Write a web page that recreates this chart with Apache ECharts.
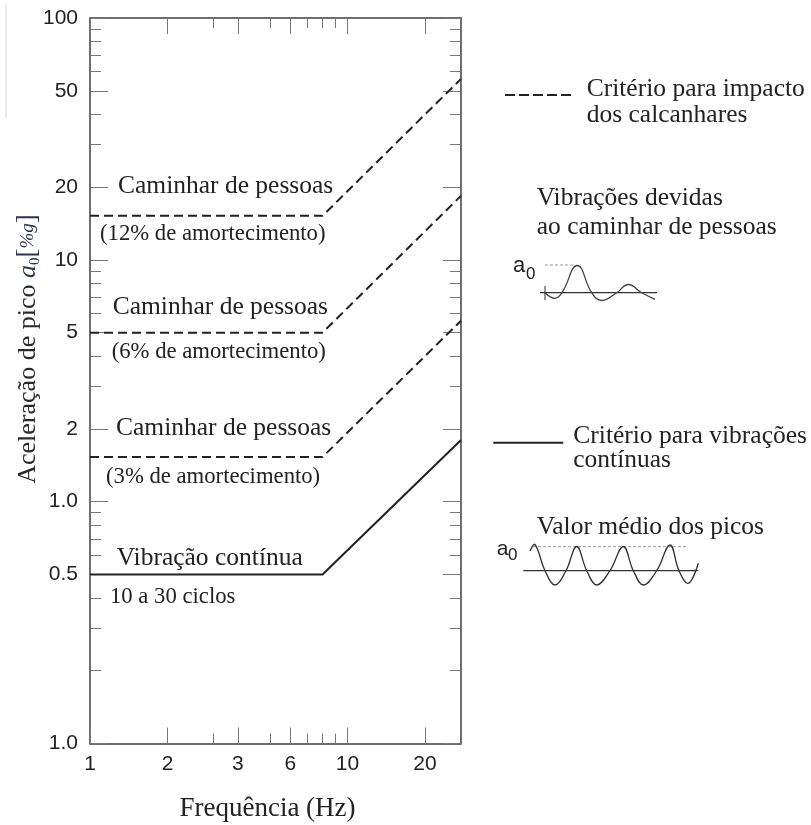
<!DOCTYPE html>
<html>
<head>
<meta charset="utf-8">
<script src="https://cdn.jsdelivr.net/npm/echarts@6/dist/echarts.min.js"></script>
<style>html,body{margin:0;padding:0;background:#fff}#chart{width:811px;height:825px}</style>
</head>
<body>
<div id="chart"></div>
<script>
// axis ranges and ticks (log-log)
const X_MIN = 1, X_MAX = 27.6;
const Y_MIN = 0.1, Y_MAX = 100;
const xMajorTicks = [1, 2, 3.75, 6, 10, 20];
const xTickLabels = ['1', '2', '3', '6', '10', '20'];
const xMinorTicks = [3, 5, 7, 8, 9];
const yMajorTicks = [0.1, 0.5, 1, 2, 5, 10, 20, 50, 100];
const yTickLabels = ['1.0', '0.5', '1.0', '2', '5', '10', '20', '50', '100'];
const yMinorTicks = [0.2, 0.3, 0.4, 0.6, 0.7, 0.8, 0.9, 3, 4, 6, 7, 8, 9, 30, 40, 60, 70, 80, 90];

// criteria curves: frequency (Hz) -> peak acceleration (%g)
const freq = [1, 8, 27.6];
const walk12 = [15.2, 15.2, 56];
const walk6 = [5, 5, 18.4];
const walk3 = [1.53, 1.53, 5.6];
const continuous = [0.5, 0.5, 1.8];

const SERIF = '"Liberation Serif", "Times New Roman", serif';
const SANS = '"Liberation Sans", Arial, sans-serif';
const INK = '#222';

function pickLabel(ticks, labels) {
  return v => {
    const i = ticks.findIndex(t => Math.abs(t - v) < 1e-6);
    return i < 0 ? '' : labels[i];
  };
}

function axisOf(kind, pos, ticks, len, labels) {
  const isX = kind === 'x';
  return {
    type: 'log', logBase: 10, position: pos,
    min: isX ? X_MIN : Y_MIN, max: isX ? X_MAX : Y_MAX,
    axisLine: { show: true, onZero: false, lineStyle: { color: '#666', width: 1.5 } },
    axisTick: { show: true, inside: true, length: len, customValues: ticks, lineStyle: { color: '#777', width: 1 } },
    axisLabel: labels ? {
      show: true, customValues: ticks, formatter: pickLabel(ticks, labels),
      margin: isX ? 10 : 12, color: INK, fontFamily: SANS, fontSize: 21
    } : { show: false },
    splitLine: { show: false }, minorTick: { show: false }
  };
}

function curve(name, vals, dashed) {
  return {
    name, type: 'line', xAxisIndex: 0, yAxisIndex: 0,
    data: freq.map((f, i) => [f, vals[i]]),
    symbol: 'none', silent: true,
    lineStyle: { color: INK, width: 2, type: dashed ? [9, 5] : 'solid' }
  };
}

function txt(x, y, text, size, align) {
  return {
    type: 'text', x, y, silent: true,
    style: { text, fill: INK, fontFamily: SERIF, fontSize: size, align: align || 'left', verticalAlign: 'middle' }
  };
}

function sans(x, y, text, size) {
  return { type: 'text', x, y, silent: true,
    style: { text, fill: INK, fontFamily: SANS, fontSize: size, verticalAlign: 'middle' } };
}

function hline(x1, x2, y, stroke, width, dash) {
  return { type: 'line', silent: true, shape: { x1, y1: y, x2, y2: y },
    style: { stroke, lineWidth: width, lineDash: dash || null } };
}

const BIG = 25.5, SMALL = 22.7;
const MATH = '#2a3550';

const chart = echarts.init(document.getElementById('chart'), null, { renderer: 'canvas' });
chart.setOption({
  animation: false,
  backgroundColor: '#fff',
  grid: { left: 90, top: 18, right: 350, bottom: 81.5, containLabel: false },
  xAxis: [
    axisOf('x', 'bottom', xMajorTicks, 16, xTickLabels),
    axisOf('x', 'bottom', xMinorTicks, 10),
    axisOf('x', 'top', xMajorTicks, 16),
    axisOf('x', 'top', xMinorTicks, 10)
  ],
  yAxis: [
    axisOf('y', 'left', yMajorTicks, 18, yTickLabels),
    axisOf('y', 'left', yMinorTicks, 11),
    axisOf('y', 'right', yMajorTicks, 18),
    axisOf('y', 'right', yMinorTicks, 11)
  ],
  series: [
    curve('Caminhar de pessoas (12%)', walk12, true),
    curve('Caminhar de pessoas (6%)', walk6, true),
    curve('Caminhar de pessoas (3%)', walk3, true),
    curve('Vibração contínua', continuous, false)
  ],
  graphic: [
    // labels inside the plot
    txt(118, 186.5, 'Caminhar de pessoas', BIG),
    txt(100, 234, '(12% de amortecimento)', SMALL),
    txt(112.7, 306.8, 'Caminhar de pessoas', BIG),
    txt(111.7, 352.3, '(6% de amortecimento)', SMALL),
    txt(116, 428.5, 'Caminhar de pessoas', BIG),
    txt(106, 477.3, '(3% de amortecimento)', SMALL),
    txt(116.7, 558.5, 'Vibração contínua', BIG),
    txt(110, 597.3, '10 a 30 ciclos', SMALL),
    // axis titles
    txt(267.5, 809, 'Frequência (Hz)', 27, 'center'),
    {
      type: 'text', x: 28, y: 349, rotation: Math.PI / 2, silent: true,
      style: {
        text: 'Aceleração de pico {it|a}{sub|0}{br|[}{pg|%g}{br|]}',
        fill: '#2a2a2a', fontFamily: SERIF, fontSize: 26, align: 'center', verticalAlign: 'middle',
        rich: {
          it: { fontFamily: SERIF, fontStyle: 'italic', fontSize: 26, fill: MATH, lineHeight: 30, verticalAlign: 'middle' },
          sub: { fontFamily: SERIF, fontSize: 15, fill: MATH, lineHeight: 30, verticalAlign: 'bottom' },
          br: { fontFamily: SERIF, fontSize: 27, fill: MATH, lineHeight: 30, verticalAlign: 'middle' },
          pg: { fontFamily: SERIF, fontStyle: 'italic', fontSize: 19, fill: MATH, lineHeight: 30, verticalAlign: 'middle' }
        }
      }
    },
    // legend: heel impact criterion
    hline(505, 572, 95, INK, 2, [10, 4]),
    txt(586.7, 89.6, 'Critério para impacto', BIG),
    txt(586.7, 115.5, 'dos calcanhares', BIG),
    txt(536.7, 198, 'Vibrações devidas', BIG),
    txt(536.7, 226.8, 'ao caminhar de pessoas', BIG),
    // walking waveform sketch
    sans(513, 265.8, 'a', 22),
    sans(526, 274, '0', 17),
    hline(545, 574, 265, '#999', 1, [3, 2]),
    hline(540, 657, 292.7, '#333', 1.2),
    { type: 'line', silent: true, shape: { x1: 545, y1: 286, x2: 545, y2: 300 }, style: { stroke: '#333', lineWidth: 1 } },
    {
      type: 'polyline', silent: true,
      shape: { smooth: 0.45, points: [[545, 292.7], [555, 298.3], [562, 292.7], [577.3, 265.5], [591.7, 292.7], [601.7, 300.5], [616.7, 292.7], [628.3, 284.5], [641.7, 292.7], [655, 299.3]] },
      style: { stroke: '#444', lineWidth: 1.3, fill: null }
    },
    // legend: continuous vibration criterion
    hline(493.3, 563.3, 442.7, INK, 2),
    txt(573.3, 436.3, 'Critério para vibrações', BIG),
    txt(573.3, 460.5, 'contínuas', BIG),
    txt(536.7, 526.8, 'Valor médio dos picos', BIG),
    sans(496.7, 549, 'a', 21),
    sans(508, 555, '0', 17),
    hline(533, 687, 546.7, '#999', 1, [3, 2]),
    hline(523.3, 698.3, 570.7, '#333', 1.2),
    {
      type: 'polyline', silent: true,
      shape: { smooth: 0.4, points: [[530, 551], [535, 544.5], [545, 570.7], [555, 585], [566, 570.7], [576.7, 546.5], [586.7, 570.7], [596.7, 585], [610, 570.7], [623.3, 546.5], [633.3, 570.7], [643.3, 585], [656.7, 570.7], [670, 545], [679, 570.7], [688.3, 583.3], [698.3, 563.3]] },
      style: { stroke: '#333', lineWidth: 1.3, fill: null }
    },
    // faint scan edge at the top left
    { type: 'line', silent: true, shape: { x1: 6, y1: 4, x2: 6, y2: 118 }, style: { stroke: '#d8d8d8', lineWidth: 1 } }
  ]
});
</script>
</body>
</html>
